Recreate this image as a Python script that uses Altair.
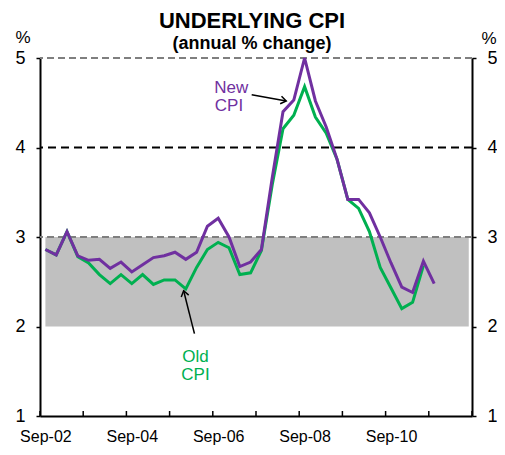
import json
import altair as alt
import pandas as pd

# ---------------- data ----------------
quarters = ["Sep-02", "Dec-02", "Mar-03", "Jun-03", "Sep-03", "Dec-03", "Mar-04", "Jun-04",
            "Sep-04", "Dec-04", "Mar-05", "Jun-05", "Sep-05", "Dec-05", "Mar-06", "Jun-06",
            "Sep-06", "Dec-06", "Mar-07", "Jun-07", "Sep-07", "Dec-07", "Mar-08", "Jun-08",
            "Sep-08", "Dec-08", "Mar-09", "Jun-09", "Sep-09", "Dec-09", "Mar-10", "Jun-10",
            "Sep-10", "Dec-10", "Mar-11", "Jun-11", "Sep-11"]
new_cpi = [2.86, 2.80, 3.06, 2.79, 2.74, 2.75, 2.65, 2.72, 2.61, 2.69, 2.77, 2.79, 2.83,
           2.75, 2.83, 3.12, 3.21, 3.00, 2.67, 2.72, 2.86, 3.66, 4.40, 4.53, 5.00, 4.52,
           4.23, 3.87, 3.42, 3.42, 3.27, 3.00, 2.71, 2.44, 2.38, 2.73, 2.48]
old_cpi = [2.86, 2.80, 3.06, 2.78, 2.71, 2.58, 2.48, 2.58, 2.48, 2.58, 2.47, 2.52, 2.52,
           2.42, 2.66, 2.86, 2.94, 2.88, 2.58, 2.60, 2.85, 3.58, 4.21, 4.36, 4.68, 4.34,
           4.16, 3.87, 3.42, 3.32, 3.06, 2.66, 2.43, 2.20, 2.27, 2.68]

band_range = [2, 3]          # target band
band_span = [0, 39.2]        # quarter index span of band
x_label_pos = [0, 8, 16, 24, 32]
x_labels = ["Sep-02", "Sep-04", "Sep-06", "Sep-08", "Sep-10"]
x_tick_bounds = [-0.5, 3.5, 7.5, 11.5, 15.5, 19.5, 23.5, 27.5, 31.5, 35.5, 39.5]
y_ticks = [1, 2, 3, 4, 5]
x_domain = [-0.5, 39.5]
y_domain = [1, 5]

label_text = ["New", "CPI", "Old", "CPI"]
label_x = [17.2, 17.0, 13.9, 13.9]
label_y = [4.66, 4.46, 1.66, 1.46]
label_series = ["new", "new", "old", "old"]

arrow_x = [19.1, 13.8]
arrow_y = [4.59, 1.92]
arrow_x2 = [22.3, 12.8]
arrow_y2 = [4.52, 2.40]
arrow_angle = [10, 256]

title_text = "UNDERLYING  CPI"
subtitle_text = "(annual % change)"
unit_text = "%"

PURPLE = "#7030A0"
GREEN = "#00B050"
FONT = "Liberation Sans"
W, H = 432, 358

# ---------------- frames ----------------
df_new = pd.DataFrame({"i": list(range(len(new_cpi))), "v": new_cpi, "q": quarters[:len(new_cpi)]})
df_old = pd.DataFrame({"i": list(range(len(old_cpi))), "v": old_cpi, "q": quarters[:len(old_cpi)]})
df_band = pd.DataFrame({"x": [band_span[0]], "x2": [band_span[1]],
                        "y": [band_range[0]], "y2": [band_range[1]]})
df_ticks = pd.DataFrame({"b": x_tick_bounds})
df_labels = pd.DataFrame({"t": label_text, "x": label_x, "y": label_y, "s": label_series})
df_arrows = pd.DataFrame({"x": arrow_x, "y": arrow_y, "x2": arrow_x2, "y2": arrow_y2,
                          "a": arrow_angle})

xs = alt.Scale(domain=x_domain, nice=False, zero=False)
ys = alt.Scale(domain=y_domain, nice=False, zero=False)

label_expr = f"{json.dumps(x_labels)}[indexof({json.dumps(x_label_pos)}, datum.value)]"
x_axis = alt.Axis(values=x_label_pos, labelExpr=label_expr, ticks=False, grid=False,
                  title=None, domainColor="black", domainWidth=2, labelColor="black",
                  labelFont=FONT, labelFontSize=16, labelPadding=12, labelFlush=False)


def y_axis(orient):
    return alt.Axis(orient=orient, values=y_ticks, format="d", grid=False, title=None,
                    tickSize=4, tickColor="black", tickWidth=1.5, domainColor="black",
                    domainWidth=2, labelColor="black", labelFont=FONT, labelFontSize=18,
                    labelPadding=11)


X = lambda f: alt.X(f, type="quantitative", scale=xs, axis=x_axis)
Y = lambda f, ax=None: alt.Y(f, type="quantitative", scale=ys, axis=ax)

band = alt.Chart(df_band).mark_rect(color="#C0C0C0").encode(
    x=X("x"), x2="x2", y=Y("y"), y2="y2")


def hline(val, color, dash):
    return alt.Chart(pd.DataFrame({"y": [val]})).mark_rule(
        color=color, strokeWidth=2, strokeDash=dash).encode(y=Y("y"))


line3 = hline(3, "#7F7F7F", [7, 4])
line4 = hline(4, "black", [8, 5])
line5 = hline(5, "#7F7F7F", [7, 4])

old_line = alt.Chart(df_old).mark_line(color=GREEN, strokeWidth=3).encode(
    x=X("i"), y=Y("v", y_axis("left")))
new_line = alt.Chart(df_new).mark_line(color=PURPLE, strokeWidth=3).encode(
    x=X("i"), y=Y("v", y_axis("right")))

xticks = alt.Chart(df_ticks).mark_rule(color="black", strokeWidth=1.5).encode(
    x=X("b"), y=alt.value(H), y2=alt.value(H - 5))

labels = alt.Chart(df_labels).mark_text(font=FONT, fontSize=17).encode(
    x=X("x"), y=Y("y"), text="t",
    color=alt.Color("s:N", scale=alt.Scale(domain=["new", "old"], range=[PURPLE, GREEN]),
                    legend=None))

arrow_lines = alt.Chart(df_arrows).mark_rule(color="black", strokeWidth=1.5).encode(
    x=X("x"), y=Y("y"), x2="x2", y2="y2")
arrow_heads = alt.Chart(df_arrows).mark_point(
    shape="M-1,-0.7L0,0L-1,0.7", filled=False, color="black", strokeWidth=1.5,
    size=120, opacity=1).encode(x=X("x2"), y=Y("y2"), angle=alt.Angle("a:Q", scale=None))


def text_layer(txt, px, py, fs, fw="normal", baseline="alphabetic"):
    return alt.Chart(pd.DataFrame({"t": [txt]})).mark_text(
        font=FONT, fontSize=fs, fontWeight=fw, baseline=baseline, color="black").encode(
        text="t", x=alt.value(px), y=alt.value(py))


title1 = text_layer(title_text, 212, -30, 22, "bold")
title2 = text_layer(subtitle_text, 212, -9, 18, "bold")
pct_l = text_layer(unit_text, -17, -20, 17, baseline="middle")
pct_r = text_layer(unit_text, 449, -19, 17, baseline="middle")

chart = alt.layer(
    band, line3, line4, line5, old_line, new_line, xticks, labels, arrow_lines, arrow_heads,
    title1, title2, pct_l, pct_r
).resolve_scale(y="independent").properties(
    width=W, height=H,
    autosize=alt.AutoSizeParams(type="none"),
    padding={"left": 32, "top": 50, "right": 25, "bottom": 31},
).configure_view(stroke=None)

chart.save("out.html", embed_options={"renderer": "svg", "actions": False})
